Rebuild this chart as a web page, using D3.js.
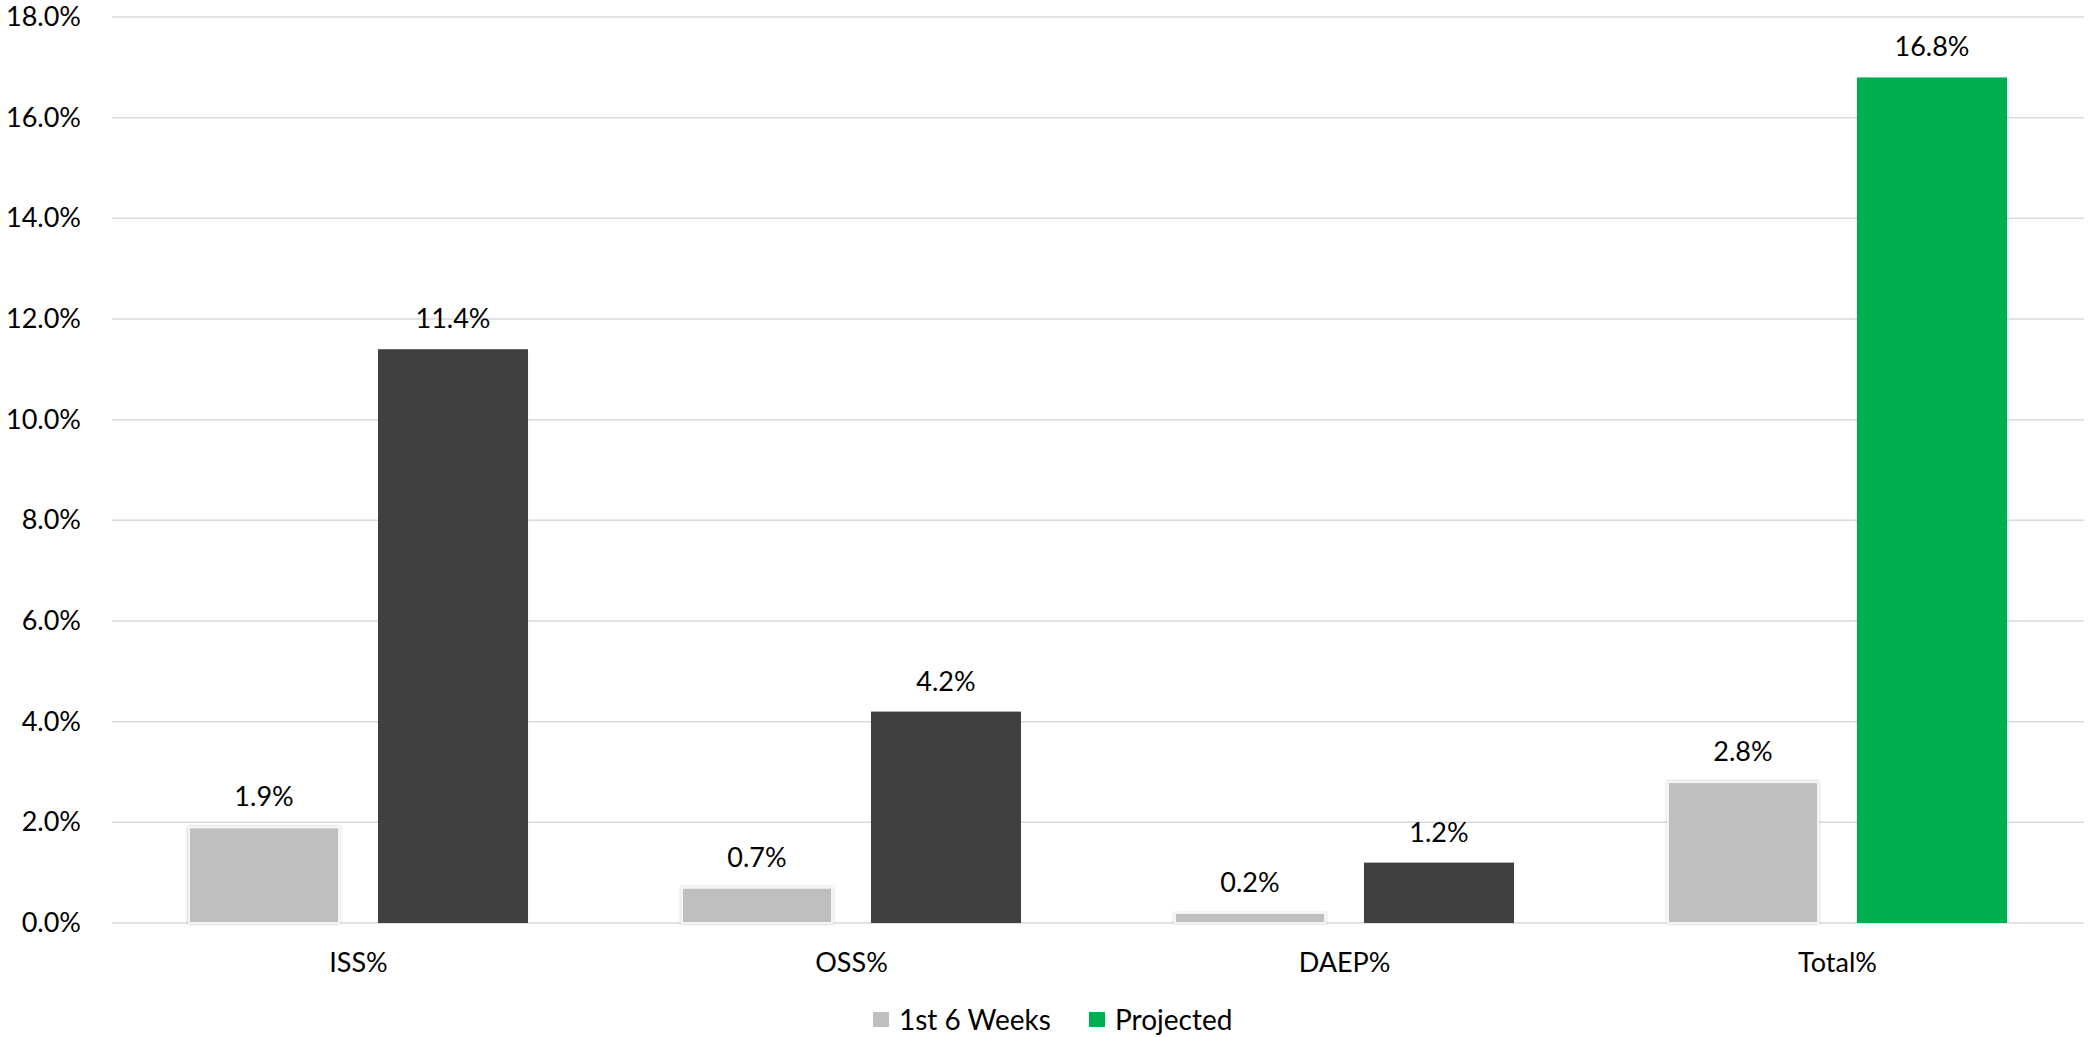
<!DOCTYPE html>
<html>
<head>
<meta charset="utf-8">
<script src="https://cdn.jsdelivr.net/npm/d3@7"></script>
<style>
  html, body { margin: 0; padding: 0; background: #fff; overflow: hidden; }
  svg text { font-family: Lato, "Open Sans", sans-serif; fill: #000; }
</style>
</head>
<body>
<div id="chart"></div>
<script>
const width = 2088, height = 1037;

// data
const categories = ["ISS%", "OSS%", "DAEP%", "Total%"];
const firstSixWeeks = [1.9, 0.7, 0.2, 2.8];
const projected = [11.4, 4.2, 1.2, 16.8];
const yTicks = [0, 2, 4, 6, 8, 10, 12, 14, 16, 18];
const seriesNames = ["1st 6 Weeks", "Projected"];

const margin = {top: 17, right: 4, bottom: 114, left: 112};
const fontSize = 27;

const svg = d3.select("#chart")
  .append("svg")
  .attr("width", width)
  .attr("height", height);

// soft shadow used by the grey bars
const defs = svg.append("defs");
const shadow = defs.append("filter").attr("id", "soft").attr("x", "-10%").attr("y", "-10%").attr("width", "120%").attr("height", "120%");
shadow.append("feDropShadow")
  .attr("dx", 0).attr("dy", 0).attr("stdDeviation", 1.5)
  .attr("flood-color", "#000").attr("flood-opacity", 0.25);

const x0 = d3.scaleBand()
  .domain(categories)
  .range([margin.left, width - margin.right])
  .paddingInner(0.3123)
  .paddingOuter(0.1562);

const x1 = d3.scaleBand()
  .domain([0, 1])
  .range([0, x0.bandwidth()])
  .paddingInner(0.206)
  .paddingOuter(0);

const y = d3.scaleLinear()
  .domain([0, 18])
  .range([height - margin.bottom, margin.top]);

const fmt = (d) => d.toFixed(1) + "%";

// gridlines
svg.append("g").attr("class", "grid")
  .selectAll("line")
  .data(yTicks)
  .join("line")
  .attr("x1", margin.left)
  .attr("x2", width - margin.right)
  .attr("y1", (d) => y(d))
  .attr("y2", (d) => y(d))
  .attr("stroke", "#d9d9d9")
  .attr("stroke-width", 1.5);

// y axis labels
const yAxis = svg.append("g")
  .attr("transform", `translate(${margin.left},0)`)
  .call(d3.axisLeft(y).tickValues(yTicks).tickFormat(fmt).tickSize(0).tickPadding(31));
yAxis.select(".domain").remove();
yAxis.selectAll("text")
  .style("font-size", fontSize + "px")
  .style("font-family", "Lato, 'Open Sans', sans-serif")
  .attr("fill", "#000");

// bars
const rows = categories.map((c, i) => ({
  cat: c,
  vals: [
    {s: 0, v: firstSixWeeks[i], color: "#bfbfbf"},
    {s: 1, v: projected[i], color: c === "Total%" ? "#00b050" : "#404040"}
  ]
}));

const groups = svg.append("g").attr("id", "bars")
  .selectAll("g")
  .data(rows)
  .join("g")
  .attr("transform", (d) => `translate(${x0(d.cat)},0)`);

groups.selectAll("rect")
  .data((d) => d.vals)
  .join("rect")
  .attr("x", (d) => x1(d.s))
  .attr("y", (d) => y(d.v))
  .attr("width", x1.bandwidth())
  .attr("height", (d) => y(0) - y(d.v))
  .attr("fill", (d) => d.color)
  .attr("stroke", (d) => d.s === 0 ? "#f5f5f5" : "none")
  .attr("stroke-width", 2)
  .attr("filter", (d) => d.s === 0 ? "url(#soft)" : null);

// data labels
groups.selectAll("text.val")
  .data((d) => d.vals)
  .join("text")
  .attr("class", "val")
  .attr("x", (d) => x1(d.s) + x1.bandwidth() / 2)
  .attr("y", (d) => y(d.v) - 21)
  .attr("text-anchor", "middle")
  .style("font-size", fontSize + "px")
  .text((d) => fmt(d.v));

// category labels
const xAxis = svg.append("g")
  .attr("transform", `translate(0,${y(0)})`)
  .call(d3.axisBottom(x0).tickSize(0).tickPadding(30));
xAxis.select(".domain").remove();
xAxis.selectAll("text")
  .style("font-size", fontSize + "px")
  .style("font-family", "Lato, 'Open Sans', sans-serif")
  .attr("fill", "#000");

// legend (nudged up a little so the text stays inside the frame)
const legendItems = [
  {name: seriesNames[0], color: "#bfbfbf", x: 873},
  {name: seriesNames[1], color: "#00b050", x: 1089}
];
const legend = svg.append("g").attr("id", "legend");
legend.selectAll("rect")
  .data(legendItems)
  .join("rect")
  .attr("x", (d) => d.x)
  .attr("y", 1012)
  .attr("width", 16)
  .attr("height", 15)
  .attr("fill", (d) => d.color);
legend.selectAll("text")
  .data(legendItems)
  .join("text")
  .attr("x", (d) => d.x + 26)
  .attr("y", 1030)
  .style("font-size", "28px")
  .text((d) => d.name);
</script>
</body>
</html>
